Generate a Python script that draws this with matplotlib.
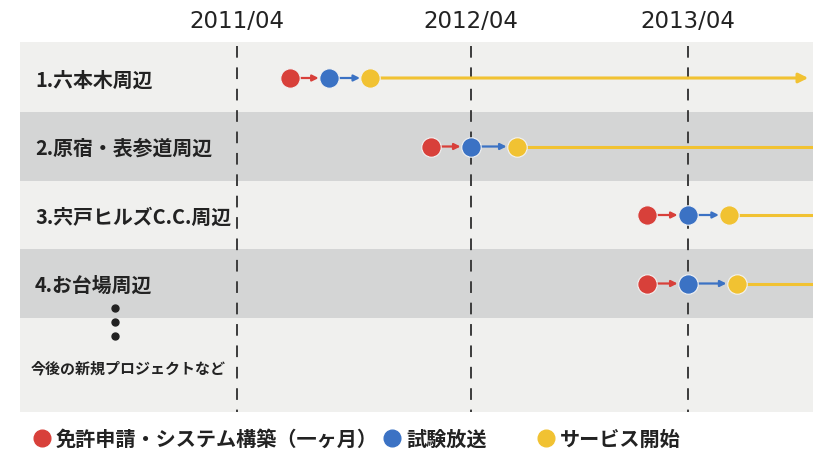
import matplotlib.pyplot as plt
from matplotlib.patches import Rectangle

plt.rcParams['font.family'] = ['Noto Sans CJK JP', 'DejaVu Sans']

# months counted from 2011/04
tick_labels = ['2011/04', '2012/04', '2013/04']
tick_months = [0, 12.45, 24]

areas = ['1.六本木周辺', '2.原宿・表参道周辺', '3.宍戸ヒルズC.C.周辺', '4.お台場周辺']
apply_m = [2.8, 10.3, 21.8, 21.8]      # 免許申請・システム構築
trial_m = [4.9, 12.45, 24.0, 24.0]     # 試験放送
service_m = [7.1, 14.9, 26.2, 26.6]    # サービス開始
arrow_end = [30.4, None, None, None]   # row 1 ends with an arrow head

legend_labels = ['免許申請・システム構築（一ヶ月）', '試験放送', 'サービス開始']
more_label = '今後の新規プロジェクトなど'

RED, BLUE, YELLOW = '#d8403a', '#3b72c4', '#f1c232'
W, H = 813, 454
PX_PER_M = 18.79
X0 = 237  # pixel of month 0


def px2m(px):
    return (px - X0) / PX_PER_M


fig = plt.figure(figsize=(W / 100, H / 100), dpi=100, facecolor='white')
ax = fig.add_axes([0, 0, 1, 1])
xmin, xmax = px2m(0), px2m(W)
ax.set_xlim(xmin, xmax)
ax.set_ylim(H, 0)
ax.axis('off')

# panel + alternating bands
row_y = [78 + i * 68.5 for i in range(len(areas))]
half = 34.5
ax.add_patch(Rectangle((px2m(20), 42), xmax - px2m(20), 370, color='#f0f0ee', zorder=0, lw=0))
for i, y in enumerate(row_y):
    if i % 2 == 1:
        ax.add_patch(Rectangle((px2m(20), y - half), xmax - px2m(20), 2 * half,
                               color='#d4d5d5', zorder=0.5, lw=0))

# date lines
for m, lab in zip(tick_months, tick_labels):
    ax.plot([m, m], [46, 412], color='#3c3c3c', lw=1.4, ls=(0, (6, 5)), zorder=1)
    ax.text(m, 21, lab, ha='center', va='center', fontsize=16.5, color='#222222',
            family=['DejaVu Sans'])

# timelines
for i, y in enumerate(row_y):
    a, t, s = apply_m[i], trial_m[i], service_m[i]
    if arrow_end[i] is not None:
        ax.annotate('', xy=(arrow_end[i], y), xytext=(s, y), zorder=2,
                    arrowprops=dict(arrowstyle='-|>', color=YELLOW, lw=2.2,
                                    mutation_scale=14, shrinkA=0, shrinkB=0))
    else:
        ax.plot([s, xmax], [y, y], color=YELLOW, lw=2.2, zorder=2)
    ax.annotate('', xy=(t, y), xytext=(a, y), zorder=2,
                arrowprops=dict(arrowstyle='-|>', color=RED, lw=1.6,
                                mutation_scale=9, shrinkA=7, shrinkB=7.5))
    ax.annotate('', xy=(s, y), xytext=(t, y), zorder=2,
                arrowprops=dict(arrowstyle='-|>', color=BLUE, lw=1.6,
                                mutation_scale=9, shrinkA=7, shrinkB=7.5))
    for m, c in zip([a, t, s], [RED, BLUE, YELLOW]):
        ax.plot(m, y, 'o', ms=14, color=c, mec='#f3f3f3', mew=0.8, zorder=3)
    fig.text(35 / W, 1 - (y + 2) / H, areas[i], fontsize=14.3, fontweight='bold',
             color='#222222', va='center', ha='left')

# continuation dots and future projects
for yy in [308, 322, 336]:
    ax.plot(px2m(115), yy, 'o', ms=5, color='#222222', zorder=3)
fig.text(31 / W, 1 - 368 / H, more_label, fontsize=10.8, fontweight='bold',
         color='#222222', va='center', ha='left')

# legend
leg_dot_x = [42, 392, 546]
for lab, c, px in zip(legend_labels, [RED, BLUE, YELLOW], leg_dot_x):
    ax.plot(px2m(px), 438, 'o', ms=12, color=c, zorder=3)
    fig.text((px + 14) / W, 1 - 439 / H, lab, fontsize=14.5, fontweight='bold',
             color='#222222', va='center', ha='left')

fig.savefig('out.png', dpi=100, facecolor='white')
